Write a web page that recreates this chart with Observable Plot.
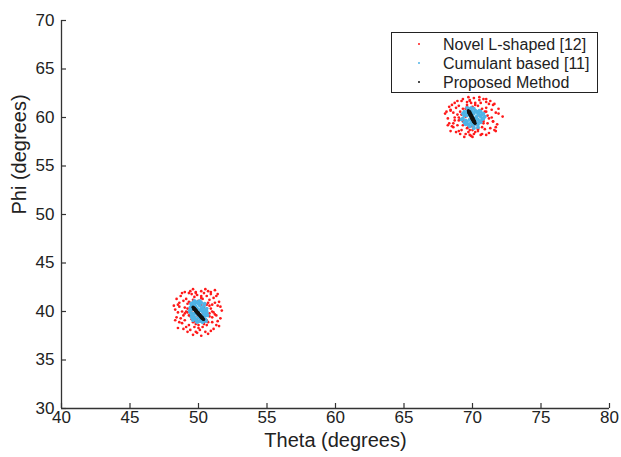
<!DOCTYPE html>
<html>
<head>
<meta charset="utf-8">
<script src="https://cdn.jsdelivr.net/npm/d3@7"></script>
<script src="https://cdn.jsdelivr.net/npm/@observablehq/plot@0.6"></script>
<style>
  html, body { margin: 0; padding: 0; background: #fff; }
  #wrap { position: relative; width: 621px; height: 457px; font-family: "Liberation Sans", Arial, sans-serif; color: #222; }
  #legend { position: absolute; left: 391px; top: 32px; width: 205px; height: 59px; border: 1.3px solid #222; background: #fff; }
  .row { position: absolute; left: 0; height: 19px; line-height: 19px; font-size: 16px; white-space: nowrap; }
  .mk { position: absolute; left: 26px; top: 8px; width: 2px; height: 2px; border-radius: 1px; }
  .lab { position: absolute; left: 51px; top: 0; }
</style>
</head>
<body>
<div id="wrap"></div>
<script>
const xTicks = [40, 45, 50, 55, 60, 65, 70, 75, 80];
const yTicks = [30, 35, 40, 45, 50, 55, 60, 65, 70];
const xLabel = "Theta (degrees)";
const yLabel = "Phi (degrees)";
const seriesNames = ["Novel L-shaped [12]", "Cumulant based [11]", "Proposed Method"];
const seriesColors = ["#ff1a1a", "#4fb3e6", "#111111"];

// Novel L-shaped [12] estimates (theta, phi)
const novelLow = [
[49.2,40.8],[50.6,39.1],[49.7,41.5],[50.9,40.3],[48.9,39.6],[50.3,38.4],[49.5,39.2],[50.8,41.2],[49.0,40.4],[51.2,39.7],
[49.8,38.7],[50.4,41.9],[48.6,40.9],[51.0,38.9],[49.4,38.1],[50.2,42.1],[48.8,38.8],[51.4,40.6],[49.9,37.8],[50.7,40.9],
[49.3,41.9],[51.1,41.4],[48.5,39.9],[50.5,37.9],[49.6,42.3],[51.6,39.3],[48.3,40.2],[50.0,38.3],[49.1,38.4],[50.9,42.0],
[48.7,41.6],[51.3,38.6],[49.6,37.6],[50.4,40.5],[49.2,39.9],[51.0,40.0],[48.9,41.1],[50.6,38.6],[49.4,40.9],[50.2,37.5],
[48.4,39.4],[51.5,41.0],[49.8,42.0],[50.8,39.5],[49.0,39.1],[51.7,40.1],[49.5,41.8],[50.3,41.3],[48.6,38.9],[50.1,39.0],
[49.7,38.4],[51.2,42.2],[48.2,40.6],[50.7,37.7],[49.3,38.6],[51.4,39.0],[49.9,41.7],[50.5,42.3],[48.8,40.0],[51.1,38.2],
[49.1,41.3],[50.0,41.1],[48.5,38.3],[51.3,41.6],[49.6,39.3],[50.9,38.0],[49.4,42.1],[50.2,40.7],[48.7,39.3],[51.6,40.5],
[49.8,37.9],[50.6,41.6],[49.2,37.9],[51.0,39.4],[48.4,41.3],[50.4,38.9],[49.5,40.1],[50.8,40.6],[48.9,38.2],[51.5,38.5],
[49.7,40.8],[50.3,39.7],[49.0,42.0],[51.2,40.9],[48.6,40.5],[50.1,38.1],[49.3,39.6],[50.7,42.1],[48.3,39.1],[51.4,41.8],
[49.9,39.6],[50.5,40.2],[49.1,40.0],[50.9,41.8],[48.8,41.9],[51.1,39.9],[49.6,38.9],[50.2,41.6],[48.5,40.7],[51.3,39.6],
[49.5,40.4],[50.5,39.6],[49.8,40.9],[50.3,39.3],[49.4,39.5],[50.6,40.7],[49.9,39.1],[50.1,40.9],[49.2,40.3],[50.8,39.8],
[49.6,41.2],[50.4,38.7],[49.0,39.8],[51.0,40.7],[49.7,39.0],[50.2,41.4],[49.3,41.0],[50.7,38.9],[49.8,41.9],[50.0,38.6]
];
const novelHigh = [
[69.1,60.6],[70.8,59.4],[69.6,61.3],[71.1,60.2],[68.7,59.7],[70.4,58.6],[69.3,59.2],[71.0,61.0],[68.9,60.3],[71.5,59.6],
[69.8,58.7],[70.5,61.8],[68.4,60.8],[71.3,58.9],[69.5,58.3],[70.1,62.0],[68.6,59.0],[71.7,60.5],[69.9,58.1],[70.7,60.9],
[69.2,61.7],[71.2,61.4],[68.2,59.9],[70.6,58.2],[69.7,62.1],[71.8,59.3],[68.0,60.4],[70.2,58.5],[69.0,58.6],[71.0,61.9],
[68.5,61.3],[71.6,58.7],[69.4,58.0],[70.3,60.6],[69.1,59.8],[71.4,60.0],[68.8,61.0],[70.9,58.8],[69.5,60.9],[70.0,58.0],
[68.3,59.4],[71.9,60.9],[69.8,61.8],[70.8,59.6],[68.9,59.2],[72.2,60.1],[69.6,61.6],[70.4,61.2],[68.5,59.1],[70.1,59.0],
[69.7,58.5],[71.3,61.7],[68.1,60.6],[70.7,58.3],[69.2,58.7],[71.7,59.0],[69.9,61.5],[70.5,62.1],[68.7,60.0],[71.2,58.4],
[69.0,61.2],[70.0,61.1],[68.4,58.6],[71.5,61.3],[69.6,59.4],[71.0,58.2],[69.3,61.9],[70.2,60.7],[68.6,59.4],[71.9,60.4],
[69.8,58.2],[70.6,61.5],[69.1,58.3],[71.1,59.4],[68.3,61.1],[70.4,58.9],[69.5,60.1],[70.9,60.6],[68.8,58.5],[71.7,58.6],
[69.7,60.8],[70.3,59.7],[68.9,61.7],[71.4,60.8],[68.6,60.5],[70.1,58.3],[69.3,59.6],[70.8,61.9],[68.2,59.2],[71.6,61.4],
[69.9,59.6],[70.5,60.2],[69.0,60.0],[71.0,61.6],[68.7,61.5],[71.2,59.9],[69.6,58.9],[70.2,61.5],[68.4,60.7],[71.5,59.6],
[69.5,60.4],[70.5,59.6],[69.8,60.9],[70.3,59.3],[69.4,59.5],[70.6,60.7],[69.9,59.1],[70.1,60.9],[69.2,60.3],[70.8,59.8],
[69.6,61.1],[70.4,58.8],[69.0,59.7],[71.0,60.6],[69.7,59.0],[70.2,61.3],[69.3,60.9],[70.7,59.0],[69.8,61.7],[70.0,58.7]
];

// Cumulant based [11] estimates
const cumulantLow = [
[49.5,40.2],[49.6,39.6],[49.7,40.7],[49.8,39.2],[49.9,40.9],[50.0,39.4],[50.1,40.6],[50.2,39.1],[50.3,40.4],[50.4,39.5],
[50.5,40.1],[50.6,39.8],[49.4,39.9],[49.5,40.6],[49.6,39.1],[49.7,40.3],[49.8,41.0],[49.9,39.0],[50.0,40.8],[50.1,39.3],
[50.2,40.9],[50.3,39.6],[50.4,40.6],[50.5,39.2],[50.6,40.3],[49.4,40.4],[49.5,39.5],[49.6,40.9],[49.7,39.4],[49.8,40.5],
[49.9,39.7],[50.0,41.0],[50.1,39.0],[50.2,40.3],[50.3,39.0],[50.4,40.2],[50.5,39.7],[50.6,40.0],[49.5,39.8],[49.7,39.8],
[49.8,39.9],[49.9,40.3],[50.0,39.8],[50.1,40.1],[50.2,39.6],[50.3,40.0],[49.6,40.4],[50.4,39.9],[49.45,40.8],[50.55,39.0],
[49.7,41.1],[50.3,38.9],[49.35,40.1],[50.65,39.6],[49.55,39.3],[50.45,40.8],[49.9,38.9],[50.1,41.1]
];
const cumulantHigh = [
[69.4,60.2],[69.5,59.7],[69.6,60.6],[69.7,59.3],[69.8,60.8],[69.9,59.5],[70.0,60.5],[70.1,59.2],[70.2,60.7],[70.3,59.4],
[70.4,60.4],[70.5,59.6],[70.6,60.1],[70.7,59.8],[69.3,59.9],[69.4,60.6],[69.5,59.3],[69.6,60.2],[69.7,60.9],[69.8,59.1],
[69.9,60.7],[70.0,59.3],[70.1,60.9],[70.2,59.5],[70.3,60.6],[70.4,59.3],[70.5,60.3],[70.6,59.5],[70.7,60.3],[70.8,59.9],
[69.5,60.4],[69.6,59.6],[69.7,60.4],[69.8,59.8],[69.9,60.2],[70.0,59.9],[70.1,60.4],[70.2,59.9],[70.3,60.1],[70.4,59.8],
[70.5,60.7],[69.4,59.5],[70.6,60.6],[69.3,60.4],[70.9,60.1],[69.6,61.0],[70.4,59.0],[69.9,61.0],[70.1,58.9],[70.8,60.4],
[69.2,59.8],[70.0,60.1],[69.8,60.3],[70.2,59.7]
];

// Proposed Method estimates
const proposedLow = [
[49.60,40.45],[49.65,40.38],[49.68,40.30],[49.72,40.25],[49.75,40.18],[49.80,40.12],[49.83,40.05],[49.87,39.98],[49.90,39.92],
[49.95,39.85],[49.98,39.80],[50.02,39.72],[50.05,39.68],[50.10,39.60],[50.13,39.55],[50.17,39.48],[50.20,39.42],[50.25,39.35],
[50.28,39.30],[50.33,39.22],[50.38,39.18],[49.70,40.35],[49.78,40.22],[49.85,40.10],[49.93,39.95],[50.00,39.85],[50.08,39.70],
[50.15,39.58],[50.22,39.48],[50.30,39.38],[49.66,40.22],[49.76,40.08],[49.84,39.95],[49.92,39.83],[50.00,39.70],[50.08,39.60],
[50.16,39.45],[50.24,39.32]
];
const proposedHigh = [
[69.70,60.70],[69.73,60.62],[69.75,60.55],[69.78,60.48],[69.80,60.42],[69.83,60.35],[69.86,60.28],[69.88,60.20],[69.91,60.12],
[69.94,60.05],[69.96,59.98],[69.99,59.90],[70.02,59.82],[70.05,59.75],[70.07,59.68],[70.10,59.60],[70.13,59.52],[70.16,59.45],
[70.19,59.40],[69.80,60.60],[69.85,60.45],[69.90,60.30],[69.95,60.18],[70.00,60.02],[70.05,59.90],[70.10,59.75],[70.15,59.62],
[69.72,60.48],[69.78,60.35],[69.83,60.22],[69.88,60.08],[69.93,59.95],[69.98,59.82],[70.03,59.68],[70.08,59.55]
];

const novel = novelLow.concat(novelHigh);
const cumulant = cumulantLow.concat(cumulantHigh);
const proposed = proposedLow.concat(proposedHigh);

const axisColor = "#333";
const chart = Plot.plot({
  width: 621,
  height: 457,
  marginLeft: 61,
  marginRight: 12,
  marginTop: 20,
  marginBottom: 49,
  x: {domain: [40, 80]},
  y: {domain: [30, 70]},
  style: {fontFamily: "'Liberation Sans', Arial, sans-serif", fontSize: "17px", color: "#222", background: "#fff"},
  marks: [
    Plot.axisX(xTicks, {tickSize: 0, tickPadding: 2, label: null, fontSize: 17}),
    Plot.axisY(yTicks, {tickSize: 0, tickPadding: 7, label: null, fontSize: 17}),
    Plot.dot(novel, {x: d => d[0], y: d => d[1], r: 1.35, fill: seriesColors[0], stroke: null}),
    Plot.dot(cumulant, {x: d => d[0], y: d => d[1], r: 1.9, fill: seriesColors[1], stroke: null}),
    Plot.dot(proposed, {x: d => d[0], y: d => d[1], r: 1.6, fill: seriesColors[2], stroke: null}),
    Plot.ruleX([40], {stroke: axisColor, strokeWidth: 1.3}),
    Plot.ruleY([30], {stroke: axisColor, strokeWidth: 1.3}),
    Plot.tickX(xTicks, {x: d => d, insetTop: 383, stroke: axisColor, strokeWidth: 1.2}),
    Plot.tickY(yTicks, {y: d => d, insetRight: 543, stroke: axisColor, strokeWidth: 1.2}),
    Plot.text([xLabel], {text: d => d, frameAnchor: "bottom", dy: 38, fontSize: 20, fill: "#222"}),
    Plot.text([yLabel], {text: d => d, frameAnchor: "left", dx: -42, rotate: -90, fontSize: 20, fill: "#222"})
  ]
});

const wrap = document.getElementById("wrap");
wrap.appendChild(chart);

const legend = document.createElement("div");
legend.id = "legend";
seriesNames.forEach((name, i) => {
  const row = document.createElement("div");
  row.className = "row";
  row.style.top = (1.5 + i * 19) + "px";
  const mk = document.createElement("span");
  mk.className = "mk";
  mk.style.background = seriesColors[i];
  const lab = document.createElement("span");
  lab.className = "lab";
  lab.textContent = name;
  row.appendChild(mk);
  row.appendChild(lab);
  legend.appendChild(row);
});
wrap.appendChild(legend);
</script>
</body>
</html>
